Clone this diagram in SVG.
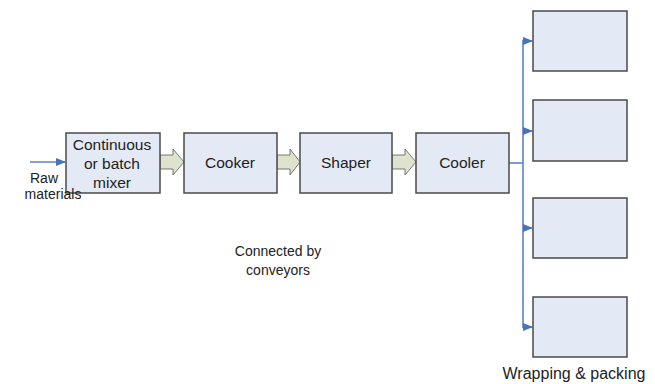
<svg xmlns="http://www.w3.org/2000/svg" width="655" height="384" viewBox="0 0 655 384">
<style>
.box{fill:#e4eaf5;stroke:#4a4a4a;stroke-width:1.5}
.t{font-family:"Liberation Sans",Arial,sans-serif;font-size:14px;fill:#222;text-anchor:middle}
.bl{font-size:15.5px}
.blk{fill:#dfe2cc;stroke:#777;stroke-width:1}
.conn{stroke:#5b82c8;stroke-width:1.6;fill:none}
</style>
<defs>
<marker id="ah" markerWidth="10" markerHeight="8" refX="9" refY="4" orient="auto" markerUnits="userSpaceOnUse">
<path d="M0,0 L10,4 L0,8 Z" fill="#4a72b8"/>
</marker>
</defs>
<rect width="655" height="384" fill="#fff"/>
<g id="connectors">
<line class="conn" x1="30" y1="162" x2="65" y2="162" marker-end="url(#ah)"/>
<polyline class="conn" points="509,163 523,163"/>
<line class="conn" x1="523" y1="40" x2="523" y2="328"/>
<line class="conn" x1="523" y1="41" x2="532" y2="41" marker-end="url(#ah)"/>
<line class="conn" x1="523" y1="131" x2="532" y2="131" marker-end="url(#ah)"/>
<line class="conn" x1="523" y1="228" x2="532" y2="228" marker-end="url(#ah)"/>
<line class="conn" x1="523" y1="327" x2="532" y2="327" marker-end="url(#ah)"/>
<path class="blk" d="M160,155 L173,155 L173,149 L184,162 L173,175 L173,169 L160,169 Z"/>
<path class="blk" d="M277,155 L290,155 L290,149 L300,162 L290,175 L290,169 L277,169 Z"/>
<path class="blk" d="M392,155 L405,155 L405,149 L416,162 L405,175 L405,169 L392,169 Z"/>
</g>
<g id="mixer">
<rect class="box" x="66" y="133" width="94" height="60"/>
<text class="t bl" x="112" y="150">Continuous</text>
<text class="t bl" x="112" y="169">or batch</text>
<text class="t bl" x="112" y="188">mixer</text>
</g>
<g id="cooker">
<rect class="box" x="184" y="133" width="93" height="60"/>
<text class="t bl" x="230" y="168">Cooker</text>
</g>
<g id="shaper">
<rect class="box" x="300" y="133" width="92" height="60"/>
<text class="t bl" x="346" y="168">Shaper</text>
</g>
<g id="cooler">
<rect class="box" x="416" y="133" width="93" height="60"/>
<text class="t bl" x="462" y="168">Cooler</text>
</g>
<g id="pack1"><rect class="box" x="533" y="11" width="94" height="60"/></g>
<g id="pack2"><rect class="box" x="533" y="100" width="94" height="61"/></g>
<g id="pack3"><rect class="box" x="533" y="198" width="94" height="60"/></g>
<g id="pack4"><rect class="box" x="533" y="297" width="94" height="60"/></g>
<g id="labels">
<text class="t" x="44" y="183">Raw</text>
<text class="t" x="53" y="199">materials</text>
<text class="t" x="278" y="256">Connected by</text>
<text class="t" x="278" y="275">conveyors</text>
<text class="t" x="574" y="379" style="font-size:16px">Wrapping &amp; packing</text>
</g>
</svg>
